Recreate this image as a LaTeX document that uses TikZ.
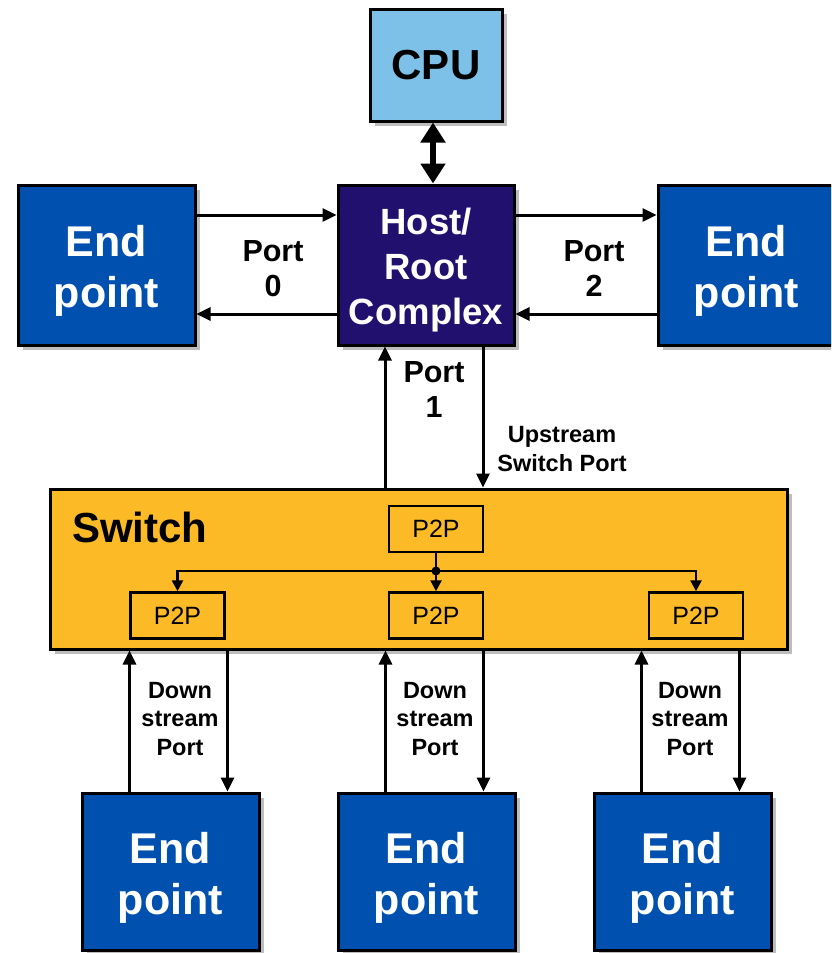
\documentclass[tikz,border=0pt]{standalone}
\usepackage{fontspec}
\setmainfont{Liberation Sans}
\usetikzlibrary{arrows.meta,shadows}

\definecolor{cpublue}{HTML}{7DC1E9}
\definecolor{hostnavy}{HTML}{22106F}
\definecolor{epblue}{HTML}{0050B0}
\definecolor{swyellow}{HTML}{FBBA26}
\definecolor{shadowgray}{HTML}{BDBDBD}

\tikzset{
  boxshadow/.style={drop shadow={shadow xshift=5pt, shadow yshift=-5pt, fill=shadowgray, opacity=1}},
  blockbox/.style={draw=black, line width=3pt, boxshadow, align=center, inner sep=0pt},
  eptext/.style={align=center, inner sep=0pt, text=white, font=\bfseries\fontsize{43}{51}\selectfont},
  epbox/.style={blockbox, fill=epblue, minimum width=177pt, minimum height=160pt,
    label={[eptext, yshift=-6pt]center:End\\point}},
  p2pbox/.style={draw=black, line width=2.5pt, fill=swyellow, minimum width=94pt, minimum height=46pt,
    inner sep=0pt, font=\fontsize{25}{28}\selectfont},
  link/.style={line width=3pt, -{Triangle[length=14pt,width=13pt]}},
  inner/.style={line width=2.5pt},
  innerarr/.style={inner, -{Triangle[length=11pt,width=11pt]}},
  lbl/.style={align=center, inner sep=0pt, font=\bfseries\fontsize{30.5}{35}\selectfont},
  smalllbl/.style={align=center, inner sep=0pt, font=\bfseries\fontsize{23.5}{28.5}\selectfont}
}

\begin{document}
\begin{tikzpicture}[x=1pt,y=-1pt]
\useasboundingbox (0,0) rectangle (831,953);
\clip (0,0) rectangle (831,953);

% blocks
\node[blockbox, fill=cpublue, minimum width=132pt, minimum height=112pt,
      font=\bfseries\fontsize{42}{51}\selectfont] (cpu) at (436,65) {CPU};
\node[blockbox, fill=hostnavy, minimum width=176pt, minimum height=160pt,
      label={[align=center, inner sep=0pt, text=white, yshift=-5pt,
              font=\bfseries\fontsize{36.5}{45}\selectfont]center:Host/\\Root\\Complex}] (host) at (426,265) {};
\node[epbox] (epl) at (106.5,265) {};
\node[epbox] (epr) at (746.5,265) {};

\node[blockbox, fill=swyellow, minimum width=737pt, minimum height=160pt] (sw) at (418.5,569) {};
\node[anchor=west, inner sep=0pt, font=\bfseries\fontsize{42}{48}\selectfont] (swlbl) at (72,527) {Switch};

\node[p2pbox] (pt) at (436,529) {P2P};
\node[p2pbox] (pl) at (177.5,615.5) {P2P};
\node[p2pbox] (pm) at (436,615.5) {P2P};
\node[p2pbox] (pr) at (696,615.5) {P2P};

\node[epbox, minimum height=157pt] (ebl) at (170.5,871.5) {};
\node[epbox, minimum height=157pt] (ebm) at (426.5,871.5) {};
\node[epbox, minimum height=157pt] (ebr) at (682.5,871.5) {};

% CPU <-> host
\coordinate (cx) at (433,0);
\draw[line width=6.5pt, {Triangle[length=20pt,width=24pt]}-{Triangle[length=20pt,width=24pt]}]
  (cx |- cpu.south) -- (cx |- host.north);

% port 0 and port 2
\draw[link] ([yshift=50pt]epl.east) -- ([yshift=50pt]host.west);
\draw[link] ([yshift=-49pt]host.west) -- ([yshift=-49pt]epl.east);
\draw[link] ([yshift=50pt]host.east) -- ([yshift=50pt]epr.west);
\draw[link] ([yshift=-49pt]epr.west) -- ([yshift=-49pt]host.east);

% port 1 to the switch
\coordinate (u1) at ([xshift=-41pt]host.south);
\coordinate (d1) at ([xshift=57pt]host.south);
\draw[link] (u1 |- sw.north) -- (u1);
\draw[link] (d1) -- (d1 |- sw.north);

% downstream ports
\foreach \e in {ebl,ebm,ebr}{
  \coordinate (u-\e) at ([xshift=-41pt]\e.north);
  \coordinate (d-\e) at ([xshift=57pt]\e.north);
  \draw[link] (u-\e) -- (u-\e |- sw.south);
  \draw[link] (d-\e |- sw.south) -- (d-\e);
}

% internal fan-out
\coordinate (jn) at (436,571);
\draw[inner] (pt.south) -- (jn);
\draw[innerarr] (jn) -| (pl.north);
\draw[innerarr] (jn) -| (pr.north);
\draw[innerarr] (jn) -- (pm.north);
\fill (jn) circle (4.5pt);

% labels
\node[lbl] (lp0) at (273,269) {Port\\0};
\node[lbl] (lp2) at (594,269) {Port\\2};
\node[lbl] (lp1) at (434,390) {Port\\1};
\node[smalllbl] (lup) at (562,449) {Upstream\\Switch Port};
\node[smalllbl] (ldl) at (180,719) {Down\\stream\\Port};
\node[smalllbl] (ldm) at (435,719) {Down\\stream\\Port};
\node[smalllbl] (ldr) at (690,719) {Down\\stream\\Port};
\end{tikzpicture}
\end{document}
